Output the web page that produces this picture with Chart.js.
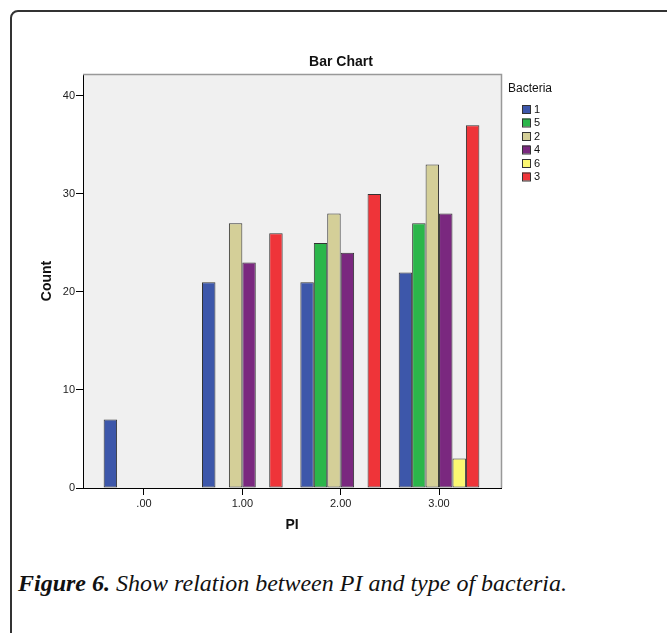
<!DOCTYPE html>
<html>
<head>
<meta charset="utf-8">
<script src="https://cdn.jsdelivr.net/npm/chart.js@4/dist/chart.umd.min.js"></script>
<style>
  html, body { margin: 0; padding: 0; background: #fff; }
  body { width: 667px; height: 633px; position: relative; overflow: hidden; }
  .frame {
    position: absolute; left: 10px; top: 10px; width: 720px; height: 720px;
    border: 2px solid #333; border-radius: 8px; box-sizing: border-box;
  }
  #wrap { position: absolute; left: 0; top: 0; width: 667px; height: 560px; }
  .caption {
    position: absolute; left: 18px; top: 570px; white-space: nowrap;
    font-family: "Liberation Serif", "DejaVu Serif", serif; font-style: italic;
    font-size: 24px; color: #111;
  }
  .caption b { font-weight: bold; }
</style>
</head>
<body>
<div class="frame"></div>
<div id="wrap"><canvas id="chart" width="667" height="560"></canvas></div>
<div class="caption"><b>Figure 6.</b> Show relation between PI and type of bacteria.</div>
<script>
// Data
const piValues = [0, 1, 2, 3];
const piLabels = ['.00', '1.00', '2.00', '3.00'];
const yTicks = [0, 10, 20, 30, 40];

const bacteriaLabels = ['1', '5', '2', '4', '6', '3'];
const counts1 = [7, 21, 21, 22];
const counts5 = [null, null, 25, 27];
const counts2 = [null, 27, 28, 33];
const counts4 = [null, 23, 24, 28];
const counts6 = [null, null, null, 3];
const counts3 = [null, 26, 30, 37];

const bacteriaColors = ['#3d57aa', '#2bb64a', '#d4cf98', '#7a287f', '#fcf872', '#ef3439'];
const seriesList = [counts1, counts5, counts2, counts4, counts6, counts3];

const font = '"Liberation Sans", Arial, sans-serif';

const datasets = seriesList.map((values, i) => ({
  label: bacteriaLabels[i],
  data: piValues.map((x, j) => ({ x: x, y: values[j] })),
  backgroundColor: bacteriaColors[i],
  borderColor: '#333',
  borderWidth: 1,
  borderSkipped: false
}));

// Plot background, frame lines, title and legend in SPSS style
const spssDecor = {
  id: 'spssDecor',
  beforeDraw(chart) {
    const { ctx, chartArea: a } = chart;
    ctx.save();
    ctx.fillStyle = '#f0f0f0';
    ctx.fillRect(a.left, a.top, a.right - a.left, a.bottom - a.top);
    ctx.restore();
  },
  afterDraw(chart) {
    const { ctx, chartArea: a } = chart;
    ctx.save();
    ctx.strokeStyle = '#999';
    ctx.lineWidth = 1.5;
    ctx.beginPath();
    ctx.moveTo(a.left, a.top + 0.5);
    ctx.lineTo(a.right + 0.5, a.top + 0.5);
    ctx.lineTo(a.right + 0.5, a.bottom);
    ctx.stroke();

    // title
    ctx.fillStyle = '#111';
    ctx.font = 'bold 14px ' + font;
    ctx.textAlign = 'center';
    ctx.textBaseline = 'middle';
    ctx.fillText('Bar Chart', 341, 62);

    // legend
    ctx.font = '12px ' + font;
    ctx.textAlign = 'left';
    ctx.fillText('Bacteria', 508, 89);
    ctx.font = '11px ' + font;
    chart.data.datasets.forEach((ds, i) => {
      const y = 105 + i * 13.5;
      ctx.fillStyle = ds.backgroundColor;
      ctx.fillRect(522, y, 8, 8);
      ctx.strokeStyle = '#333';
      ctx.lineWidth = 1;
      ctx.strokeRect(522.5, y + 0.5, 8, 8);
      ctx.fillStyle = '#111';
      ctx.fillText(ds.label, 534, y + 4.5);
    });
    ctx.restore();
  }
};

new Chart(document.getElementById('chart'), {
  type: 'bar',
  data: { datasets: datasets },
  options: {
    responsive: false,
    animation: false,
    categoryPercentage: 0.82,
    barPercentage: 1.0,
    layout: { padding: { left: 37, right: 166, top: 74, bottom: 22 } },
    plugins: {
      legend: { display: false },
      title: { display: false },
      tooltip: { enabled: false }
    },
    scales: {
      x: {
        type: 'linear',
        min: -0.62,
        max: 3.63,
        offset: false,
        grid: { offset: false, drawOnChartArea: false, drawTicks: true, tickLength: 7, tickColor: '#000' },
        border: { color: '#000', width: 1 },
        afterBuildTicks: scale => { scale.ticks = piValues.map(v => ({ value: v })); },
        afterFit: scale => { scale.height = 50; },
        ticks: {
          padding: 2,
          color: '#222',
          font: { family: font, size: 11 },
          callback: (value) => piLabels[piValues.indexOf(value)]
        },
        title: {
          display: true,
          text: 'PI',
          color: '#111',
          font: { family: font, size: 14, weight: 'bold' },
          padding: { top: 2, bottom: 4 }
        }
      },
      y: {
        min: 0,
        max: 42.24,
        grid: { drawOnChartArea: false, drawTicks: true, tickLength: 7, tickColor: '#000' },
        border: { color: '#000', width: 1 },
        afterBuildTicks: scale => { scale.ticks = yTicks.map(v => ({ value: v })); },
        afterFit: scale => { scale.width = 46; },
        ticks: {
          padding: 1,
          color: '#222',
          font: { family: font, size: 11 }
        },
        title: {
          display: true,
          text: 'Count',
          color: '#111',
          font: { family: font, size: 14, weight: 'bold' },
          padding: { top: 2, bottom: 2 }
        }
      }
    }
  },
  plugins: [spssDecor]
});
</script>
</body>
</html>
